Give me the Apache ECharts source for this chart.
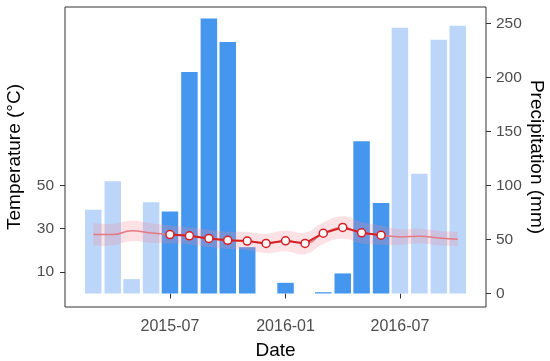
<!DOCTYPE html>
<html>
<head>
<meta charset="utf-8">
<script src="https://cdn.jsdelivr.net/npm/echarts@6/dist/echarts.min.js"></script>
<style>html,body{margin:0;padding:0;background:#fff}#c{width:550px;height:361px}</style>
</head>
<body>
<div id="c"></div>
<script>
// Monthly data (month start dates)
const months = ['2015-03','2015-04','2015-05','2015-06','2015-07','2015-08','2015-09','2015-10','2015-11','2015-12',
                '2016-01','2016-02','2016-03','2016-04','2016-05','2016-06','2016-07','2016-08','2016-09','2016-10'];
// Precipitation (mm)
const precipitation = [77.6, 104, 13.3, 84.4, 76, 205, 254.7, 233, 42.9, 0,
                       9.9, 0, 1.2, 18.6, 141, 83.9, 246, 111, 235, 248];
// Observed study period (dark bars, points)
const observedMonths = ['2015-07','2015-08','2015-09','2015-10','2015-11','2015-12',
                        '2016-01','2016-02','2016-03','2016-04','2016-05','2016-06'];
const observedTemp = [27.3, 26.7, 25.5, 24.6, 24.3, 23.2, 24.4, 23.2, 27.9, 30.6, 28.1, 27.0];
// Mean temperature curve and its ribbon (°C)
const meanTemp = [27.3, 27.3, 29.0, 28.0, 27.3, 26.7, 25.5, 24.6, 24.3, 23.2,
                  24.4, 23.2, 27.9, 30.6, 28.1, 27.0, 26.2, 26.5, 25.7, 25.1];
const tempLower = [22.1, 22.3, 24.2, 23.5, 23.1, 22.7, 21.5, 20.6, 20.1, 18.7,
                   19.6, 18.2, 22.9, 25.4, 23.1, 22.5, 22.6, 23.1, 22.3, 21.7];
const tempUpper = [32.5, 32.3, 33.8, 32.5, 31.5, 30.7, 29.5, 28.6, 28.5, 27.7,
                   29.2, 28.2, 32.9, 35.8, 33.1, 31.5, 29.8, 29.9, 29.1, 28.5];
const xTicks = ['2015-07','2016-01','2016-07'];
const leftTicks = [10, 30, 50];
const rightTicks = [0, 50, 100, 150, 200, 250];

function ts(m){ const p = m.split('-'); return Date.UTC(+p[0], +p[1]-1, 1); }
function fmt(v){ const d = new Date(v); const mm = d.getUTCMonth()+1; return d.getUTCFullYear() + '-' + (mm<10?'0':'') + mm; }

// smooth bezier path through pixel points (same style as ECharts line smoothing)
function smoothSegs(pts, s, first){
  let d = first ? 'M' + pts[0][0] + ' ' + pts[0][1] : 'L' + pts[0][0] + ' ' + pts[0][1];
  const n = pts.length;
  function cps(i){
    const prev = pts[Math.max(i-1,0)], cur = pts[i], next = pts[Math.min(i+1,n-1)];
    const vx = next[0]-prev[0], vy = next[1]-prev[1];
    const l1 = Math.hypot(cur[0]-prev[0], cur[1]-prev[1]);
    const l2 = Math.hypot(next[0]-cur[0], next[1]-cur[1]);
    const r = (l1+l2) ? l2/(l1+l2) : 0.5;
    return {
      next: [cur[0] + vx*s*r, cur[1] + vy*s*r],
      prev: [cur[0] - vx*s*(1-r), cur[1] - vy*s*(1-r)]
    };
  }
  for (let i = 0; i < n-1; i++){
    const a = cps(i).next, b = cps(i+1).prev;
    d += 'C' + a[0] + ' ' + a[1] + ' ' + b[0] + ' ' + b[1] + ' ' + pts[i+1][0] + ' ' + pts[i+1][1];
  }
  return d;
}

const FONT = "'Liberation Sans', Arial, sans-serif";
const chart = echarts.init(document.getElementById('c'), null, {renderer:'canvas'});
chart.setOption({
  animation: false,
  backgroundColor: '#fff',
  grid: {left: 65, right: 64, top: 7, bottom: 54, outerBoundsMode: 'none', containLabel: false,
         show: true, borderColor: '#333', borderWidth: 1, backgroundColor: 'transparent'},
  xAxis: {
    type: 'value',
    min: Date.UTC(2015, 0, 15), max: Date.UTC(2016, 10, 15),
    name: 'Date', nameLocation: 'middle', nameGap: 34, nameMoveOverlap: false,
    nameTextStyle: {fontFamily: FONT, fontSize: 19, color: '#000'},
    axisLine: {show: false},
    splitLine: {show: false},
    axisTick: {show: true, length: 5, lineStyle: {color: '#333'}, customValues: xTicks.map(ts)},
    axisLabel: {show: true, customValues: xTicks.map(ts), formatter: fmt, margin: 12,
                fontFamily: FONT, fontSize: 16, color: '#4d4d4d'}
  },
  yAxis: [{
    type: 'value', position: 'left',
    min: -6.25, max: 132.65,
    name: 'Temperature (°C)', nameLocation: 'middle', nameGap: 41, nameRotate: 90, nameMoveOverlap: false,
    nameTextStyle: {fontFamily: FONT, fontSize: 19, color: '#000'},
    axisLine: {show: false}, splitLine: {show: false},
    axisTick: {show: true, length: 5, lineStyle: {color: '#333'}, customValues: leftTicks},
    axisLabel: {customValues: leftTicks, margin: 11, fontFamily: FONT, fontSize: 15.5, color: '#4d4d4d'}
  }, {
    type: 'value', position: 'right',
    min: -12.5, max: 265.3,
    name: 'Precipitation (mm)', nameLocation: 'middle', nameGap: 41, nameRotate: -90, nameMoveOverlap: false,
    nameTextStyle: {fontFamily: FONT, fontSize: 19, color: '#000'},
    axisLine: {show: false}, splitLine: {show: false},
    axisTick: {show: true, length: 5, lineStyle: {color: '#333'}, customValues: rightTicks},
    axisLabel: {customValues: rightTicks, margin: 10, fontFamily: FONT, fontSize: 15.5, color: '#4d4d4d'}
  }],
  series: [{
    type: 'bar', yAxisIndex: 1, barWidth: 16.5, z: 1,
    data: months.map((m, i) => [ts(m), precipitation[i]]),
    itemStyle: {color: p => observedMonths.indexOf(months[p.dataIndex]) >= 0 ? '#4596ee' : '#bbd6f8'}
  }, {
    type: 'custom', yAxisIndex: 0, z: 3, silent: true,
    data: [[ts(months[0]), tempLower[0]]],
    renderItem: function(params, api){
      const up = months.map((m, i) => api.coord([ts(m), tempUpper[i]]));
      const lo = months.map((m, i) => api.coord([ts(m), tempLower[i]])).reverse();
      const d = smoothSegs(up, 0.5, true) + smoothSegs(lo, 0.5, false) + 'Z';
      return {type: 'path', shape: {pathData: d}, style: {fill: 'rgba(245,140,155,0.26)', stroke: null}};
    }
  }, {
    type: 'line', yAxisIndex: 0, smooth: true, symbol: 'none', z: 4,
    lineStyle: {color: '#e57a84', width: 1.5},
    data: months.map((m, i) => [ts(m), meanTemp[i]])
  }, {
    type: 'line', yAxisIndex: 0, z: 5,
    symbol: 'circle', symbolSize: 8,
    lineStyle: {color: '#d41f24', width: 2},
    itemStyle: {color: '#fff', borderColor: '#d41f24', borderWidth: 1.5},
    data: observedMonths.map((m, i) => [ts(m), observedTemp[i]])
  }]
});
</script>
</body>
</html>
